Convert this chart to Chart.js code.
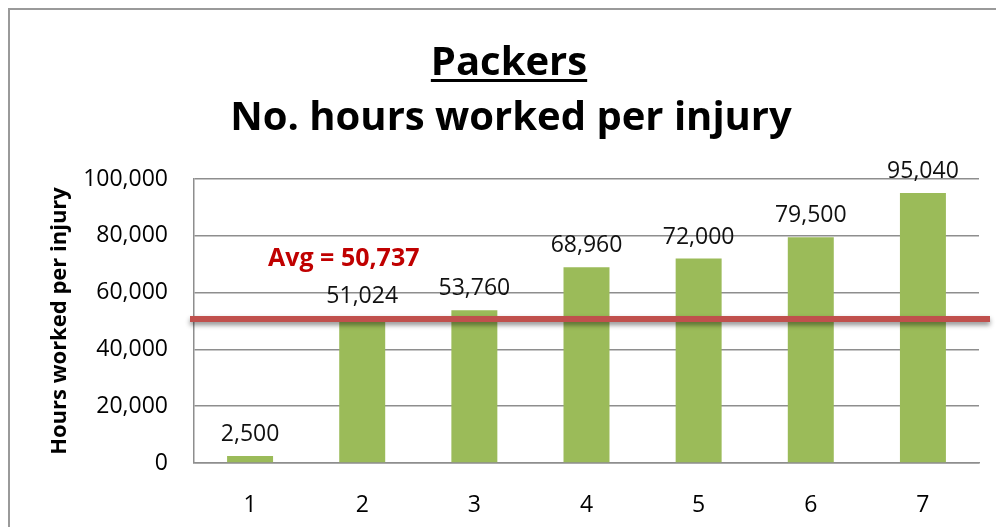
<!DOCTYPE html>
<html>
<head>
<meta charset="utf-8">
<script src="https://cdn.jsdelivr.net/npm/chart.js@4.4.1/dist/chart.umd.min.js"></script>
<style>
  body { margin: 0; background: #fff; overflow: hidden; }
  #frame { position: absolute; left: 8px; top: 8px; width: 1100px; height: 700px; border: 2px solid #9a9a9a; }
  #myChart { position: absolute; left: 0; top: 0; }
</style>
</head>
<body>
<div id="frame"></div>
<canvas id="myChart" width="996" height="527"></canvas>
<script>
const labels = ['1', '2', '3', '4', '5', '6', '7'];
const hoursPerInjury = [2500, 51024, 53760, 68960, 72000, 79500, 95040];
const averageValue = 50737;
const yTicks = [0, 20000, 40000, 60000, 80000, 100000];
const titleLines = ['Packers', 'No. hours worked per injury'];
const yTitle = 'Hours worked per injury';

const fmt = (v) => String(v).replace(/\B(?=(\d{3})+(?!\d))/g, ',');

Chart.defaults.font.family = "'Open Sans', sans-serif";
Chart.defaults.color = '#000';

// titles, with the underline under the first line
const titlePlugin = {
    id: 'titles',
    afterDraw(chart) {
        const ctx = chart.ctx;
        ctx.save();
        ctx.fillStyle = '#000';
        ctx.textAlign = 'center';
        ctx.textBaseline = 'alphabetic';
        ctx.font = "bold 40px 'Open Sans'";
        ctx.fillText(titleLines[0], 509, 75);
        const w = ctx.measureText(titleLines[0]).width;
        ctx.fillRect(509 - w / 2, 79, w, 3);
        ctx.fillText(titleLines[1], 511, 130);
        ctx.restore();
    }
};

// value labels above the bars
const barLabels = {
    id: 'barLabels',
    afterDatasetsDraw(chart) {
        const ctx = chart.ctx;
        const meta = chart.getDatasetMeta(0);
        ctx.save();
        ctx.fillStyle = '#111';
        ctx.font = "23px 'Open Sans'";
        ctx.textAlign = 'center';
        ctx.textBaseline = 'alphabetic';
        meta.data.forEach((bar, i) => {
            ctx.fillText(fmt(hoursPerInjury[i]), bar.x, bar.y - 15);
        });
        ctx.restore();
    }
};

// average line with its label
const avgLine = {
    id: 'avgLine',
    afterDraw(chart) {
        const ctx = chart.ctx;
        const y = chart.scales.y.getPixelForValue(averageValue);
        const area = chart.chartArea;
        ctx.save();
        ctx.shadowColor = 'rgba(0,0,0,0.45)';
        ctx.shadowBlur = 5;
        ctx.shadowOffsetY = 3;
        ctx.strokeStyle = '#C0504D';
        ctx.lineWidth = 6;
        ctx.beginPath();
        ctx.moveTo(area.left - 4, y);
        ctx.lineTo(chart.width - 6, y);
        ctx.stroke();
        ctx.restore();

        ctx.save();
        ctx.fillStyle = '#C00000';
        ctx.font = "bold 25px 'Open Sans'";
        ctx.textAlign = 'left';
        ctx.textBaseline = 'alphabetic';
        ctx.fillText('Avg = ' + fmt(averageValue), area.left + 74, y - 53);
        ctx.restore();
    }
};

const ctx = document.getElementById('myChart').getContext('2d');
const myChart = new Chart(ctx, {
    type: 'bar',
    data: {
        labels: labels,
        datasets: [{
            data: hoursPerInjury,
            backgroundColor: '#9BBB59',
            categoryPercentage: 1,
            barPercentage: 0.41
        }]
    },
    options: {
        responsive: false,
        animation: false,
        layout: { padding: { top: 179, right: 17, left: 0, bottom: 0 } },
        plugins: {
            legend: { display: false },
            tooltip: { enabled: false },
            title: { display: false }
        },
        scales: {
            x: {
                grid: { display: false, drawTicks: false },
                border: { display: true, color: '#8e8e8e', width: 1.5 },
                ticks: { font: { size: 23 }, padding: 29, color: '#000' },
                afterFit: (s) => { s.height = 64; }
            },
            y: {
                min: 0,
                max: 100000,
                afterBuildTicks: (s) => { s.ticks = yTicks.map(v => ({ value: v })); },
                grid: { color: '#8e8e8e', lineWidth: 1.5, drawTicks: false },
                border: { display: true, color: '#8e8e8e', width: 1.5 },
                ticks: { font: { size: 23 }, padding: 26, color: '#000', callback: (v) => fmt(v) },
                title: {
                    display: true,
                    text: yTitle,
                    font: { size: 22, weight: 'bold' },
                    padding: { top: 47, bottom: 0 },
                    color: '#000'
                },
                afterFit: (s) => { s.width = 194; }
            }
        }
    },
    plugins: [titlePlugin, barLabels, avgLine]
});
</script>
</body>
</html>
